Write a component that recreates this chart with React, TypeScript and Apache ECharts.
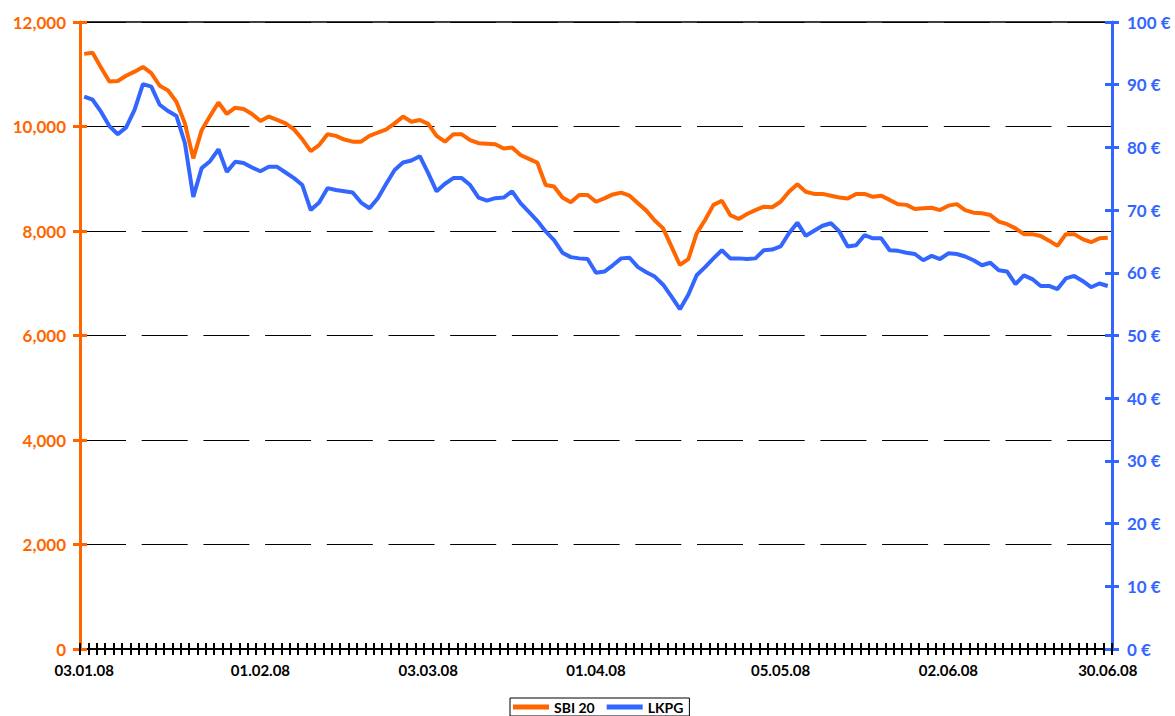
import React, { useEffect, useRef } from "react";
import * as echarts from "echarts";

// Trading days (Ljubljana Stock Exchange) 03.01.08 – 30.06.08
const holidays = ["08.02.08", "24.03.08", "01.05.08", "02.05.08", "25.06.08"];
const xLabels = ["03.01.08", "01.02.08", "03.03.08", "01.04.08", "05.05.08", "02.06.08", "30.06.08"];

function buildDates(): string[] {
  const out: string[] = [];
  const d = new Date(Date.UTC(2008, 0, 3));
  const end = Date.UTC(2008, 5, 30);
  const p = (n: number) => (n < 10 ? "0" + n : "" + n);
  while (d.getTime() <= end) {
    const wd = d.getUTCDay();
    const s = p(d.getUTCDate()) + "." + p(d.getUTCMonth() + 1) + "." + String(d.getUTCFullYear()).slice(2);
    if (wd !== 0 && wd !== 6 && holidays.indexOf(s) < 0) out.push(s);
    d.setUTCDate(d.getUTCDate() + 1);
  }
  return out;
}
const dates = buildDates();

const sbi20 = [
  11390, 11410, 11130, 10860, 10870, 10970, 11050, 11140, 11020, 10780,
  10690, 10470, 10060, 9390, 9930, 10200, 10460, 10240, 10360, 10335,
  10240, 10105, 10190, 10125, 10060, 9945, 9755, 9530, 9645, 9850,
  9820, 9750, 9710, 9710, 9820, 9885, 9945, 10060, 10190, 10090,
  10125, 10050, 9820, 9710, 9850, 9850, 9740, 9680, 9670, 9660,
  9580, 9600, 9455, 9380, 9310, 8880, 8850, 8640, 8550, 8690,
  8690, 8560, 8625, 8700, 8735, 8675, 8530, 8390, 8200, 8050,
  7700, 7350, 7460, 7955, 8210, 8500, 8580, 8305, 8230, 8325,
  8400, 8465, 8455, 8560, 8750, 8895, 8750, 8710, 8710, 8675,
  8640, 8620, 8710, 8710, 8655, 8675, 8595, 8510, 8500, 8420,
  8435, 8445, 8400, 8485, 8515, 8400, 8350, 8340, 8305, 8180,
  8130, 8050, 7940, 7940, 7905, 7815, 7715, 7940, 7940, 7845,
  7785, 7860, 7870,
];

const lkpg = [
  88.1, 87.6, 85.7, 83.4, 82.1, 83.2, 86.0, 90.1, 89.7, 86.8,
  85.8, 85.0, 80.7, 72.1, 76.7, 77.8, 79.7, 76.1, 77.7, 77.5,
  76.8, 76.2, 76.9, 76.9, 76.0, 75.1, 74.0, 70.0, 71.2, 73.5,
  73.2, 73.0, 72.8, 71.2, 70.3, 71.9, 74.2, 76.4, 77.6, 77.9,
  78.6, 75.9, 73.0, 74.2, 75.1, 75.1, 74.0, 72.0, 71.5, 71.9,
  72.0, 73.0, 71.1, 69.7, 68.3, 66.6, 65.2, 63.2, 62.5, 62.3,
  62.2, 60.0, 60.2, 61.2, 62.3, 62.4, 60.9, 60.1, 59.4, 58.1,
  56.2, 54.2, 56.5, 59.6, 60.9, 62.3, 63.6, 62.3, 62.3, 62.2,
  62.3, 63.6, 63.7, 64.2, 66.3, 68.0, 65.9, 66.7, 67.5, 67.9,
  66.6, 64.2, 64.4, 66.0, 65.5, 65.5, 63.6, 63.5, 63.2, 63.0,
  62.0, 62.7, 62.2, 63.1, 63.0, 62.6, 62.0, 61.2, 61.6, 60.4,
  60.2, 58.2, 59.6, 59.0, 57.9, 57.9, 57.4, 59.1, 59.5, 58.7,
  57.7, 58.3, 57.9,
];

const ORANGE = "#FF6600";
const BLUE = "#3366FF";
const FONT = "Lato";

export default function App() {
  const ref = useRef<HTMLDivElement>(null);
  useEffect(() => {
    if (!ref.current) return;
    const chart = echarts.init(ref.current, undefined, { renderer: "svg" });
    const yLeftBase = { type: "value", position: "left", min: 0, max: 12000, interval: 2000 };
    const yRightBase = { type: "value", position: "right", min: 0, max: 100, interval: 10 };
    chart.setOption({
      animation: false,
      backgroundColor: "#fff",
      grid: { left: 80, right: 63, top: 22, bottom: 67, containLabel: false },
      legend: {
        data: ["SBI 20", "LKPG"],
        left: 510,
        top: 698,
        icon: "rect",
        itemWidth: 36,
        itemHeight: 5,
        itemGap: 12,
        borderColor: "#000",
        borderWidth: 1,
        padding: [2, 6, 2, 3],
        textStyle: { color: "#000", fontWeight: "bold", fontSize: 14, fontFamily: FONT, lineHeight: 14 },
      },
      xAxis: [
        {
          type: "category",
          data: dates,
          boundaryGap: true,
          position: "bottom",
          axisLine: { onZero: false, lineStyle: { color: "#000", width: 2 } },
          axisTick: { show: true, interval: 0, length: 6, lineStyle: { color: "#000", width: 2 } },
          axisLabel: {
            interval: (_i: number, v: string) => xLabels.indexOf(v) >= 0,
            color: "#000",
            fontWeight: "bold",
            fontSize: 15,
            fontFamily: FONT,
            margin: 13,
          },
          splitLine: { show: false },
        },
        {
          type: "category",
          data: dates,
          boundaryGap: true,
          position: "bottom",
          axisLine: { show: false, onZero: false },
          axisTick: { show: true, inside: true, interval: 0, length: 6, lineStyle: { color: "#000", width: 2 } },
          axisLabel: { show: false },
          splitLine: { show: false },
        },
        {
          type: "category",
          data: dates,
          boundaryGap: true,
          position: "top",
          axisLine: { show: true, onZero: false, lineStyle: { color: "#000", width: 1.5 } },
          axisTick: { show: false },
          axisLabel: { show: false },
          splitLine: { show: false },
        },
      ],
      yAxis: [
        {
          ...yLeftBase,
          axisLine: { show: true, onZero: false, lineStyle: { color: ORANGE, width: 3 } },
          axisTick: { show: true, length: 7, lineStyle: { color: ORANGE, width: 3 } },
          axisLabel: {
            color: ORANGE,
            fontWeight: "bold",
            fontSize: 17,
            fontFamily: FONT,
            margin: 14,
            formatter: (v: number) => v.toLocaleString("en-US"),
          },
          splitLine: { show: true, lineStyle: { color: "#000", width: 1, type: [46, 15.7] } },
        },
        {
          ...yLeftBase,
          axisLine: { show: false, onZero: false },
          axisTick: { show: true, inside: true, length: 7, lineStyle: { color: ORANGE, width: 3 } },
          axisLabel: { show: false },
          splitLine: { show: false },
        },
        {
          ...yRightBase,
          axisLine: { show: true, onZero: false, lineStyle: { color: BLUE, width: 3 } },
          axisTick: { show: true, length: 7, lineStyle: { color: BLUE, width: 3 } },
          axisLabel: {
            color: BLUE,
            fontWeight: "bold",
            fontSize: 17,
            fontFamily: FONT,
            margin: 15,
            formatter: "{value} €",
          },
          splitLine: { show: false },
        },
        {
          ...yRightBase,
          axisLine: { show: false, onZero: false },
          axisTick: { show: true, inside: true, length: 7, lineStyle: { color: BLUE, width: 3 } },
          axisLabel: { show: false },
          splitLine: { show: false },
        },
      ],
      series: [
        {
          name: "SBI 20",
          type: "line",
          data: sbi20,
          xAxisIndex: 0,
          yAxisIndex: 0,
          symbol: "none",
          showSymbol: false,
          lineStyle: { color: ORANGE, width: 4 },
          itemStyle: { color: ORANGE },
          z: 3,
        },
        {
          name: "LKPG",
          type: "line",
          data: lkpg,
          xAxisIndex: 0,
          yAxisIndex: 2,
          symbol: "none",
          showSymbol: false,
          lineStyle: { color: BLUE, width: 4 },
          itemStyle: { color: BLUE },
          z: 3,
        },
      ],
    });
    return () => chart.dispose();
  }, []);
  return (
    <div
      ref={ref}
      style={{ position: "absolute", left: 0, top: 0, width: 1175, height: 716, background: "#fff" }}
    />
  );
}
